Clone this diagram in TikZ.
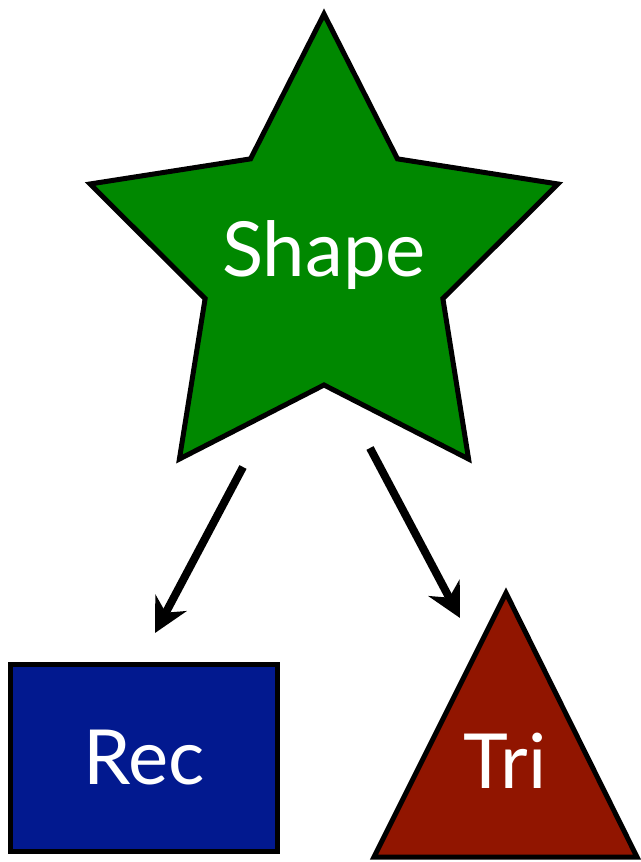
\documentclass[tikz,border=0pt]{standalone}
\usepackage{fontspec}
\setmainfont{Lato}
\usetikzlibrary{arrows.meta,calc}
\definecolor{stargreen}{RGB}{0,136,0}
\definecolor{recblue}{RGB}{2,25,143}
\definecolor{trired}{RGB}{145,21,0}
\begin{document}
\begin{tikzpicture}[x=1pt,y=-1pt,
  outline/.style={draw=black,line width=5pt,line join=miter,miter limit=10},
  lbl/.style={text=white,font=\fontsize{76}{80}\selectfont,inner sep=0pt},
  conn/.style={line width=8pt,-{Stealth[length=34pt,width=35pt,inset=11pt]}}]
\useasboundingbox (0,0) rectangle (640,862);
% star
\coordinate (sc) at (324,260);
\draw[outline,fill=stargreen]
  ($(sc)+(-90:246)$) -- ($(sc)+(-54:125)$) -- ($(sc)+(-18:246)$) --
  ($(sc)+(18:125)$) -- ($(sc)+(54:246)$) -- ($(sc)+(90:125)$) --
  ($(sc)+(126:246)$) -- ($(sc)+(162:125)$) -- ($(sc)+(198:246)$) --
  ($(sc)+(234:125)$) -- cycle;
\node[lbl,anchor=base] (shape) at (324,276) {Shape};
% rectangle
\node[outline,fill=recblue,lbl,minimum width=267pt,minimum height=187pt] (rec) at (144,758) {Rec};
% triangle
\coordinate (ta) at (506,593);
\coordinate (tl) at (374,857);
\coordinate (tr) at (637,857);
\draw[outline,fill=trired] (ta) -- (tl) -- (tr) -- cycle;
\node[lbl,anchor=base] (tri) at (505,788) {Tri};
% connectors
\coordinate (s1) at (243,467);
\coordinate (e1) at (155,633);
\coordinate (s2) at (370,448);
\coordinate (e2) at (460,618);
\draw[conn] (s1) -- (e1);
\draw[conn] (s2) -- (e2);
\end{tikzpicture}
\end{document}
